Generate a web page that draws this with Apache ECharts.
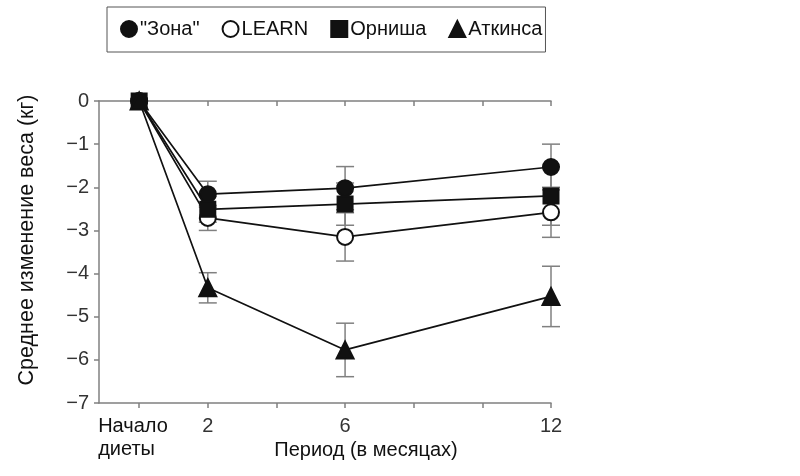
<!DOCTYPE html>
<html><head><meta charset="utf-8">
<script src="https://cdn.jsdelivr.net/npm/echarts@6/dist/echarts.min.js"></script>
<style>html,body{margin:0;padding:0;background:#fff}#c{width:800px;height:476px}</style>
</head><body><div id="c"></div>
<script>
const seriesNames = ['"Зона"', 'LEARN', 'Орниша', 'Аткинса'];
const months = [0, 2, 6, 12];
const zonaY = [0, -2.16, -2.02, -1.53];
const learnY = [0, -2.71, -3.15, -2.58];
const ornishY = [0, -2.51, -2.39, -2.2];
const atkinsY = [0, -4.33, -5.77, -4.53];
const zonaErr = [0, 0.3, 0.5, 0.53];
const learnErr = [0, 0.29, 0.56, 0.58];
const ornishErr = [0, 0.3, 0.49, 0.68];
const atkinsErr = [0, 0.35, 0.62, 0.7];
const xTickValues = [0, 2, 4, 6, 8, 10, 12];
const xLabelValues = [0, 2, 6, 12];
const yTitle = 'Среднее изменение веса (кг)';
const xTitle = 'Период (в месяцах)';

const FONT = 'Liberation Sans, Arial, sans-serif';
const AX = '#808080';
const ys = [zonaY, learnY, ornishY, atkinsY];
const errs = [zonaErr, learnErr, ornishErr, atkinsErr];
const symbols = ['circle', 'circle', 'rect', 'triangle'];
const sizes = [16, 16, 15, 17];
const fills = ['#111', '#fff', '#111', '#111'];

const errData = [];
ys.forEach((arr, s) => arr.forEach((v, i) => { if (errs[s][i] > 0) errData.push([months[i], v, errs[s][i]]); }));

const series = [{
  type: 'custom', name: 'err', z: 1, silent: true,
  data: errData,
  renderItem: function (params, api) {
    const x = api.value(0), y = api.value(1), e = api.value(2);
    const top = api.coord([x, y + e]), bot = api.coord([x, y - e]);
    const w = 9;
    const st = { stroke: AX, lineWidth: 1.5 };
    return { type: 'group', children: [
      { type: 'line', shape: { x1: top[0], y1: top[1], x2: bot[0], y2: bot[1] }, style: st },
      { type: 'line', shape: { x1: top[0] - w, y1: top[1], x2: top[0] + w, y2: top[1] }, style: st },
      { type: 'line', shape: { x1: bot[0] - w, y1: bot[1], x2: bot[0] + w, y2: bot[1] }, style: st }
    ]};
  }
}];
seriesNames.forEach((n, s) => {
  series.push({
    type: 'line', name: n, z: 3 + s,
    data: months.map((m, i) => [m, ys[s][i]]),
    symbol: symbols[s], symbolSize: sizes[s], showSymbol: true,
    lineStyle: { color: '#111', width: 1.7 },
    itemStyle: { color: fills[s], borderColor: '#111', borderWidth: 2 },
    emphasis: { disabled: true }
  });
});

const chart = echarts.init(document.getElementById('c'), null, { renderer: 'canvas' });
chart.setOption({
  animation: false,
  textStyle: { fontFamily: FONT },
  legend: {
    left: 107, top: 7,
    borderColor: '#555', borderWidth: 1,
    padding: [12, 3, 13, 13],
    itemWidth: 16, itemHeight: 16, itemGap: 22,
    textStyle: { fontSize: 20, color: '#111', fontFamily: FONT, padding: [0, 0, 0, -2] },
    data: seriesNames.map((n, s) => ({ name: n, icon: symbols[s], itemStyle: { color: fills[s], borderColor: '#111', borderWidth: 2 } }))
  },
  grid: { left: 99, right: 249, top: 101, bottom: 73, outerBoundsMode: 'none', containLabel: false },
  xAxis: [{
    type: 'value', position: 'bottom', min: -1.17, max: 12,
    axisLine: { show: true, onZero: false, lineStyle: { color: AX, width: 1.5 } },
    axisTick: { show: true, customValues: xTickValues, length: 5, lineStyle: { color: AX, width: 1.5 } },
    axisLabel: {
      customValues: xLabelValues, fontSize: 20, color: '#333', margin: 12, lineHeight: 23,
      formatter: v => v === 0 ? '{a|Начало}\n{a|диеты}' : String(v),
      rich: { a: { fontSize: 20, color: '#111', width: 72, align: 'left', lineHeight: 23, padding: [0, 10, 0, 0] } }
    },
    splitLine: { show: false },
    name: xTitle, nameLocation: 'middle', nameGap: 37, nameMoveOverlap: false,
    nameTextStyle: { fontSize: 20, color: '#111', padding: [0, 0, 0, 82] }
  }, {
    type: 'value', position: 'top', min: -1.17, max: 12,
    axisLine: { show: true, onZero: false, lineStyle: { color: AX, width: 1.5 } },
    axisTick: { show: true, inside: true, customValues: xTickValues, length: 5, lineStyle: { color: AX, width: 1.5 } },
    axisLabel: { show: false }, splitLine: { show: false }
  }],
  yAxis: {
    type: 'value', min: -7, max: 0, interval: 1,
    axisLine: { show: true, onZero: false, lineStyle: { color: AX, width: 1.5 } },
    axisTick: { show: true, length: 5, lineStyle: { color: AX, width: 1.5 } },
    axisLabel: { fontSize: 20, color: '#333', margin: 10, formatter: v => v < 0 ? '\u2212' + Math.abs(v) : String(v) },
    splitLine: { show: false },
    name: yTitle, nameLocation: 'middle', nameGap: 61, nameMoveOverlap: false,
    nameTextStyle: { fontSize: 21.5, color: '#111', padding: [0, 0, 0, 24] }
  },
  series: series
});
</script></body></html>
